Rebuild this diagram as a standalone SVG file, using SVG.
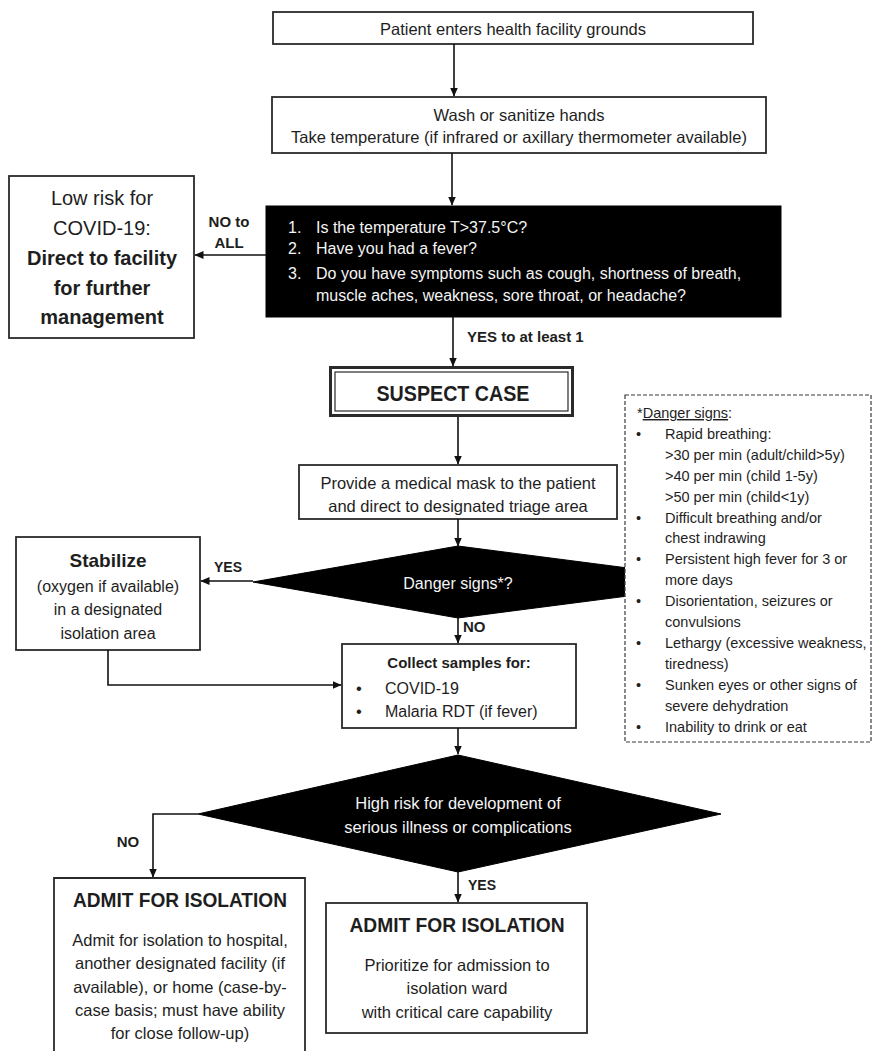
<svg xmlns="http://www.w3.org/2000/svg" width="873" height="1051" viewBox="0 0 873 1051">
<style>
text{font-family:"Liberation Sans",Arial,sans-serif;fill:#1e1e1e}
.box{fill:#fff;stroke:#2a2a2a;stroke-width:1.8}
.blk{fill:#000;stroke:#000}
.w{fill:#f4f4f4}
.c{text-anchor:middle}
.b{font-weight:bold}
.t16{font-size:16.5px}
.t15{font-size:15px}
.t14{font-size:14.5px}
.t20{font-size:20px}
.con{fill:none;stroke:#111;stroke-width:1.6}
</style>
<defs>
<marker id="ah" markerWidth="9" markerHeight="8" refX="8.5" refY="4" orient="auto" markerUnits="userSpaceOnUse">
<path d="M0,0 L9,4 L0,8 z" fill="#111"/>
</marker>
</defs>
<rect width="873" height="1051" fill="#fff"/>

<g id="n-enter">
<rect class="box" x="273" y="12" width="480" height="32"/>
<text class="c t16" x="513" y="35">Patient enters health facility grounds</text>
</g>

<g id="n-wash">
<rect class="box" x="272" y="97" width="494" height="56"/>
<text class="c t16" x="519" y="121">Wash or sanitize hands</text>
<text class="c t16" x="519" y="143">Take temperature (if infrared or axillary thermometer available)</text>
</g>

<g id="n-questions">
<rect class="blk" x="266" y="206" width="515" height="111"/>
<text class="w" font-size="16" x="288" y="233">1.</text>
<text class="w" font-size="16" x="316" y="233">Is the temperature T&gt;37.5°C?</text>
<text class="w" font-size="16" x="288" y="254">2.</text>
<text class="w" font-size="16" x="316" y="254">Have you had a fever?</text>
<text class="w" font-size="16" x="288" y="279">3.</text>
<text class="w" font-size="16" x="316" y="279">Do you have symptoms such as cough, shortness of breath,</text>
<text class="w" font-size="16" x="316" y="301">muscle aches, weakness, sore throat, or headache?</text>
</g>

<g id="n-lowrisk">
<rect class="box" x="9" y="176" width="185" height="162"/>
<text class="c t20" x="102" y="205">Low risk for</text>
<text class="c t20" x="102" y="235">COVID-19:</text>
<text class="c t20 b" x="102" y="265">Direct to facility</text>
<text class="c t20 b" x="102" y="295">for further</text>
<text class="c t20 b" x="102" y="324">management</text>
</g>

<g id="n-suspect">
<rect x="330.5" y="367.5" width="242" height="48" fill="#fff" stroke="#2a2a2a" stroke-width="3"/>
<rect x="335" y="372" width="233" height="39" fill="none" stroke="#2a2a2a" stroke-width="1.2"/>
<text class="c b" font-size="22" x="453" y="401" textLength="153" lengthAdjust="spacingAndGlyphs">SUSPECT CASE</text>
</g>

<g id="n-mask">
<rect class="box" x="299" y="465" width="318" height="54"/>
<text class="c t16" x="458" y="489">Provide a medical mask to the patient</text>
<text class="c t16" x="458" y="512">and direct to designated triage area</text>
</g>

<g id="n-danger">
<polygon class="blk" points="253,582 458,546 736,582 458,618"/>
<text class="c w" font-size="16" x="458" y="589">Danger signs*?</text>
</g>

<g id="n-signs">
<rect x="625" y="395" width="246" height="347" fill="#fff" stroke="#3a3a3a" stroke-width="1.2" stroke-dasharray="4 2"/>
<g class="t14">
<text x="637" y="418">*<tspan text-decoration="underline">Danger signs</tspan>:</text>
<text x="636" y="438.9">•</text><text x="665" y="438.9">Rapid breathing:</text>
<text x="665" y="459.8">&gt;30 per min (adult/child&gt;5y)</text>
<text x="665" y="480.7">&gt;40 per min (child 1-5y)</text>
<text x="665" y="501.6">&gt;50 per min (child&lt;1y)</text>
<text x="636" y="522.5">•</text><text x="665" y="522.5">Difficult breathing and/or</text>
<text x="665" y="543.4">chest indrawing</text>
<text x="636" y="564.3">•</text><text x="665" y="564.3">Persistent high fever for 3 or</text>
<text x="665" y="585.2">more days</text>
<text x="636" y="606.1">•</text><text x="665" y="606.1">Disorientation, seizures or</text>
<text x="665" y="627">convulsions</text>
<text x="636" y="647.9">•</text><text x="665" y="647.9">Lethargy (excessive weakness,</text>
<text x="665" y="668.8">tiredness)</text>
<text x="636" y="689.7">•</text><text x="665" y="689.7">Sunken eyes or other signs of</text>
<text x="665" y="710.6">severe dehydration</text>
<text x="636" y="731.5">•</text><text x="665" y="731.5">Inability to drink or eat</text>
</g>
</g>

<g id="n-stabilize">
<rect class="box" x="16" y="537" width="184" height="113"/>
<text class="c b" font-size="19" x="108" y="567">Stabilize</text>
<text class="c" font-size="16" x="108" y="592">(oxygen if available)</text>
<text class="c" font-size="16" x="108" y="615">in a designated</text>
<text class="c" font-size="16" x="108" y="639">isolation area</text>
</g>

<g id="n-collect">
<rect class="box" x="342" y="644" width="234" height="84"/>
<text class="c b t15" x="459" y="668">Collect samples for:</text>
<text class="t16" x="356" y="694">•</text>
<text font-size="16" x="385" y="694">COVID-19</text>
<text class="t16" x="356" y="717">•</text>
<text font-size="16" x="385" y="717">Malaria RDT (if fever)</text>
</g>

<g id="n-highrisk">
<polygon class="blk" points="198,814 458,755 721,814 458,872"/>
<text class="c w t16" x="458" y="809">High risk for development of</text>
<text class="c w t16" x="458" y="833">serious illness or complications</text>
</g>

<g id="n-admit-home">
<path d="M54,1060 V878 H305 V1060" fill="#fff" stroke="#2a2a2a" stroke-width="1.8"/>
<text class="c b t20" x="180" y="907" textLength="214" lengthAdjust="spacingAndGlyphs">ADMIT FOR ISOLATION</text>
<text class="c t16" x="180" y="946">Admit for isolation to hospital,</text>
<text class="c t16" x="180" y="969">another designated facility (if</text>
<text class="c t16" x="180" y="993">available), or home (case-by-</text>
<text class="c t16" x="180" y="1016">case basis; must have ability</text>
<text class="c t16" x="180" y="1039">for close follow-up)</text>
</g>

<g id="n-admit-icu">
<rect class="box" x="326" y="903" width="261" height="130"/>
<text class="c b t20" x="457" y="932" textLength="215" lengthAdjust="spacingAndGlyphs">ADMIT FOR ISOLATION</text>
<text class="c t16" x="457" y="971">Prioritize for admission to</text>
<text class="c t16" x="457" y="994">isolation ward</text>
<text class="c t16" x="457" y="1018">with critical care capability</text>
</g>

<g id="connectors">
<line class="con" x1="454" y1="44" x2="454" y2="96" marker-end="url(#ah)"/>
<line class="con" x1="452" y1="153" x2="452" y2="205" marker-end="url(#ah)"/>
<line class="con" x1="266" y1="255" x2="195" y2="255" marker-end="url(#ah)"/>
<line class="con" x1="453" y1="317" x2="453" y2="366" marker-end="url(#ah)"/>
<line class="con" x1="458" y1="417" x2="458" y2="464" marker-end="url(#ah)"/>
<line class="con" x1="458" y1="519" x2="458" y2="546" marker-end="url(#ah)"/>
<line class="con" x1="253" y1="581" x2="201" y2="581" marker-end="url(#ah)"/>
<line class="con" x1="458" y1="618" x2="458" y2="643" marker-end="url(#ah)"/>
<polyline class="con" points="108,650 108,685 341,685" marker-end="url(#ah)"/>
<line class="con" x1="458" y1="728" x2="458" y2="754" marker-end="url(#ah)"/>
<polyline class="con" points="198,814 153,814 153,877" marker-end="url(#ah)"/>
<line class="con" x1="458" y1="872" x2="458" y2="902" marker-end="url(#ah)"/>
<text class="c b t15" x="229" y="227">NO to</text>
<text class="c b t15" x="229" y="248">ALL</text>
<text class="b t15" x="467" y="342">YES to at least 1</text>
<text class="c b" font-size="14" x="228" y="572">YES</text>
<text class="b t15" x="463" y="632">NO</text>
<text class="c b t15" x="128" y="847">NO</text>
<text class="b" font-size="14" x="468" y="890">YES</text>
</g>
</svg>
